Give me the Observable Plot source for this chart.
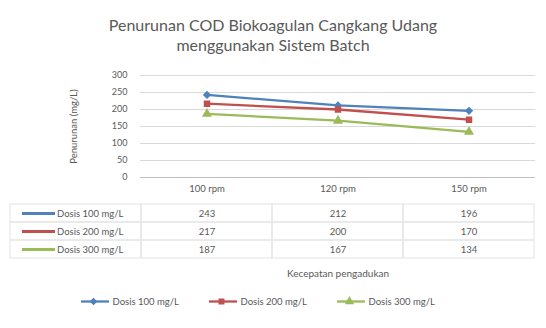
<!DOCTYPE html>
<html><head><meta charset="utf-8">
<script src="https://cdn.jsdelivr.net/npm/d3@7"></script>
<script src="https://cdn.jsdelivr.net/npm/@observablehq/plot@0.6"></script>
<style>
body{margin:0;background:#fff;font-family:Lato,"Open Sans",sans-serif;color:#595959;width:546px;height:328px;overflow:hidden}
#title{text-align:center;font-size:16px;line-height:20px;padding-top:15px;height:47px;color:#595959}
#xtitle{text-align:center;font-size:10px;height:18px;line-height:18px;padding-left:130px;margin-top:5px}
svg{display:block}
</style></head><body>
<div id="title">Penurunan COD Biokoagulan Cangkang Udang<br>menggunakan Sistem Batch</div>
<div id="chart"></div>
<div id="table"></div>
<div id="xtitle">Kecepatan pengadukan</div>
<div id="legend"></div>
<script>
const categories = ["100 rpm", "120 rpm", "150 rpm"];
const seriesNames = ["Dosis 100 mg/L", "Dosis 200 mg/L", "Dosis 300 mg/L"];
const dosis100 = [243, 212, 196];
const dosis200 = [217, 200, 170];
const dosis300 = [187, 167, 134];
const yTicks = [0, 50, 100, 150, 200, 250, 300];
const yTitle = "Penurunan (mg/L)";
const colors = ["#4F81BD", "#C0504D", "#9BBB59"];
const symbols = ["diamond2", "square", "triangle"];

const seriesValues = [dosis100, dosis200, dosis300];
const data = seriesNames.flatMap((s, i) => categories.map((c, j) => ({series: s, cat: c, value: seriesValues[i][j]})));

const font = "Lato, 'Open Sans', sans-serif";
const grey = "#595959";

const chart = Plot.plot({
  width: 546, height: 141,
  marginTop: 13, marginBottom: 26, marginLeft: 140, marginRight: 11,
  style: {fontFamily: font, fontSize: "9px", color: grey, background: "white"},
  x: {type: "band", domain: categories, paddingInner: 0, paddingOuter: 0},
  y: {domain: [0, 300]},
  color: {domain: seriesNames, range: colors},
  symbol: {domain: seriesNames, range: symbols},
  marks: [
    Plot.gridY(yTicks, {stroke: "#d9d9d9", strokeOpacity: 1}),
    Plot.axisY(yTicks, {tickSize: 0, tickPadding: 13, label: null, fill: grey, fontSize: 9}),
    Plot.text([yTitle], {frameAnchor: "left", textAnchor: "middle", rotate: -90, dx: -67, fill: grey, fontSize: 9.5}),
    Plot.axisX({tickSize: 0, tickPadding: 8, label: null, fill: grey, fontSize: 9.5}),
    Plot.ruleY([0], {stroke: "#bfbfbf"}),
    Plot.line(data, {x: "cat", y: "value", z: "series", stroke: "series", strokeWidth: 2.3}),
    Plot.dot(data, {x: "cat", y: "value", symbol: "series", fill: "series", stroke: "series", r: 2.8})
  ]
});
document.getElementById("chart").appendChild(chart);

const tableRows = data;
const table = Plot.plot({
  width: 546, height: 56,
  marginTop: 1, marginBottom: 1, marginLeft: 9, marginRight: 11,
  style: {fontFamily: font, fontSize: "9px", color: grey, background: "white"},
  x: {type: "band", domain: ["", ...categories], paddingInner: 0, paddingOuter: 0, axis: null},
  y: {type: "band", domain: seriesNames, paddingInner: 0, paddingOuter: 0, axis: null},
  marks: [
    Plot.cell(tableRows, {x: "cat", y: "series", fill: "none", stroke: "#e3e3e3"}),
    Plot.cell(seriesNames, {x: () => "", y: d => d, fill: "none", stroke: "#e3e3e3"}),
    Plot.text(tableRows, {x: "cat", y: "series", text: d => String(d.value), fill: grey, fontSize: 9.5}),
    Plot.tickY(seriesNames, {x: () => "", y: d => d, stroke: (d, i) => colors[i], strokeWidth: 3, insetLeft: 12, insetRight: 86}),
    Plot.text(seriesNames, {x: () => "", y: d => d, text: d => d, textAnchor: "start", dx: -19, fill: grey, fontSize: 9.5})
  ]
});
document.getElementById("table").appendChild(table);

const legend = Plot.plot({
  width: 546, height: 38,
  marginTop: 0, marginBottom: 0, marginLeft: 75, marginRight: 85,
  style: {fontFamily: font, fontSize: "9px", color: grey, background: "white"},
  x: {type: "band", domain: seriesNames, paddingInner: 0, paddingOuter: 0, axis: null},
  y: {domain: [0, 1], axis: null},
  color: {domain: seriesNames, range: colors},
  symbol: {domain: seriesNames, range: symbols},
  marks: [
    Plot.tickY(seriesNames, {x: d => d, y: () => 0.5, stroke: d => d, strokeWidth: 2.3, insetLeft: 5, insetRight: 95}),
    Plot.dot(seriesNames, {x: d => d, y: () => 0.5, symbol: d => d, fill: d => d, stroke: d => d, r: 2.5, dx: -47}),
    Plot.text(seriesNames, {x: d => d, y: () => 0.5, text: d => d, textAnchor: "start", dx: -28, fill: grey, fontSize: 9.5})
  ]
});
document.getElementById("legend").appendChild(legend);
</script>
</body></html>
